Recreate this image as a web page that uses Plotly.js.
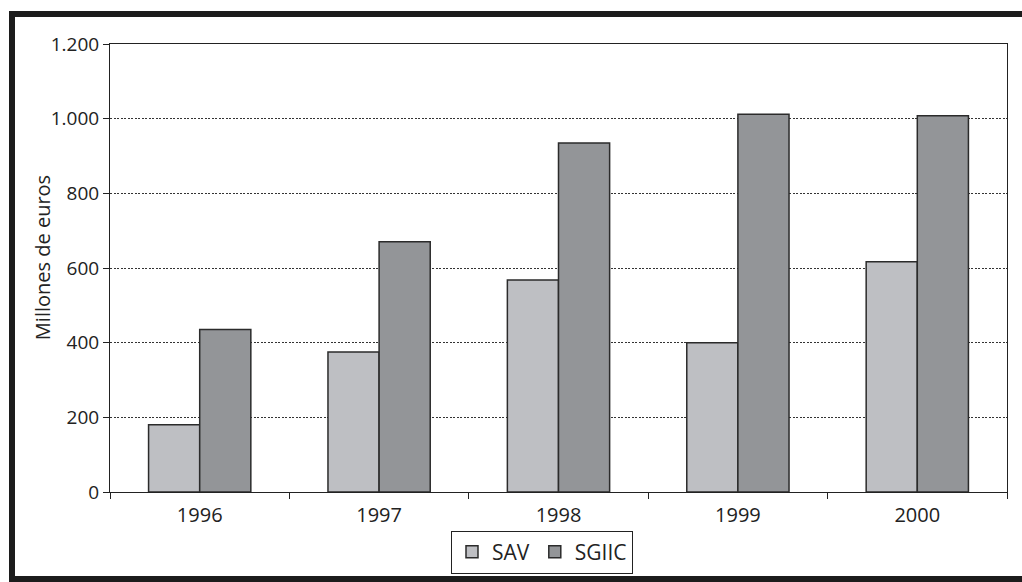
<!DOCTYPE html>
<html>
<head>
<meta charset="utf-8">
<script src="https://cdn.plot.ly/plotly-3.0.1.min.js"></script>
<style>
html,body{margin:0;padding:0;background:#fff;overflow:hidden;}
#chart{width:1022px;height:582px;}
#frame{position:absolute;left:9px;top:11px;width:1100px;height:559px;border:6px solid #1c1c1c;pointer-events:none;}
</style>
</head>
<body>
<div id="chart"></div>
<div id="frame"></div>
<script>
const years = ['1996', '1997', '1998', '1999', '2000'];
const sav = [180, 375, 568, 400, 617];
const sgiic = [435, 670, 935, 1012, 1008];
const seriesNames = ['SAV', 'SGIIC'];
const yTicks = [0, 200, 400, 600, 800, 1000, 1200];
const yTitle = 'Millones de euros';

const fontFam = '"Open Sans", Lato, sans-serif';
const traces = [
  {type: 'bar', name: seriesNames[0], x: years, y: sav,
   marker: {color: '#bebfc3', line: {color: '#2b2b2b', width: 1.5}}},
  {type: 'bar', name: seriesNames[1], x: years, y: sgiic,
   marker: {color: '#939598', line: {color: '#2b2b2b', width: 1.5}}}
];
const layout = {
  width: 1022, height: 582,
  margin: {l: 110, r: 15, t: 44, b: 90, autoexpand: false},
  paper_bgcolor: '#fff', plot_bgcolor: '#fff',
  font: {family: fontFam, size: 19, color: '#222'},
  separators: ',.',
  barmode: 'group', bargap: 0.43, bargroupgap: 0,
  showlegend: true,
  legend: {orientation: 'h', x: 0.4816, xanchor: 'center', y: -0.086, yanchor: 'top',
           bordercolor: '#222', borderwidth: 1, font: {size: 21},
           itemwidth: 30, traceorder: 'normal'},
  xaxis: {type: 'category', tickson: 'boundaries', ticks: 'outside', ticklen: 6,
          tickcolor: '#222', showline: true, linecolor: '#222', linewidth: 1,
          mirror: true, showgrid: false, tickfont: {size: 20}, ticklabelstandoff: 5},
  yaxis: {range: [0, 1200], tickvals: yTicks, tickformat: ',d', ticks: 'outside',
          ticklen: 6, tickcolor: '#222', showline: true, linecolor: '#222', linewidth: 1,
          mirror: true, showgrid: true, gridcolor: '#333', griddash: '2px,1.5px', gridwidth: 1,
          zeroline: false, tickfont: {size: 19}},
  annotations: [{text: yTitle, xref: 'paper', yref: 'paper', x: -0.0758, y: 0.522,
                 xanchor: 'center', yanchor: 'middle', textangle: -90, showarrow: false,
                 font: {size: 20, color: '#222'}}]
};
Plotly.newPlot('chart', traces, layout, {displayModeBar: false, staticPlot: true});
</script>
</body>
</html>
